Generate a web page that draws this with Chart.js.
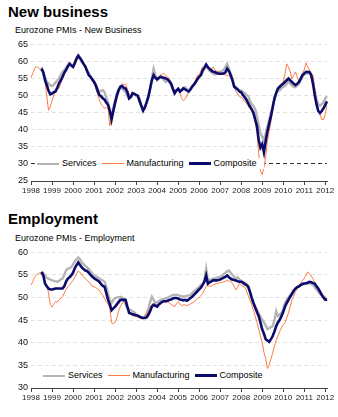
<!DOCTYPE html>
<html>
<head>
<meta charset="utf-8">
<script src="https://cdn.jsdelivr.net/npm/chart.js@4.4.1/dist/chart.umd.min.js"></script>
<style>
  body { margin: 0; background: #fff; font-family: "Liberation Sans", Arial, sans-serif; }
  #page { position: relative; width: 338px; height: 417px; overflow: hidden; }
  .title { position: absolute; left: 8px; font-size: 15px; font-weight: bold; line-height: 15px; color: #000; }
  .sub { position: absolute; left: 15px; font-size: 9px; line-height: 9px; color: #000; }
  canvas { position: absolute; left: 0; }
  .legend { position: absolute; background: #fff; font-size: 9px; line-height: 11px; height: 11px; white-space: nowrap; padding: 0 2px 0 1px; }
  .legend span { display: inline-block; vertical-align: middle; }
  .legend .sw { width: 22px; margin-right: 3px; }
  .legend .lb { margin-right: 5px; }
</style>
</head>
<body>
<div id="page">
  <div class="title" style="top:4px">New business</div>
  <div class="sub" style="top:26px">Eurozone PMIs - New Business</div>
  <canvas id="nbChart" width="338" height="161" style="top:36px"></canvas>
  <div class="legend" id="nbLegend" style="left:36px;top:158px"></div>

  <div class="title" style="top:211px">Employment</div>
  <div class="sub" style="top:234px">Eurozone PMIs - Employment</div>
  <canvas id="empChart" width="338" height="160" style="top:244px"></canvas>
  <div class="legend" id="empLegend" style="left:42px;top:370px"></div>
</div>
<script>
// monthly, Jan 1998 .. Feb 2012
var firstYear = 1998;
var monthCount = 170;
var seriesNames = ["Services", "Manufacturing", "Composite"];

// New business
var nbServices = [null, null, null, null, null, null,
  58.4, 57, 55.5, 54, 53.6, 53,
  52.8, 53.2, 53.8, 54.5, 55, 56, 56.9, 57.5, 58.2, 59, 59.5, 59,
  58.8, 59.8, 60.8, 61.3, 60.8, 60, 59.3, 58.5, 57.5, 56.5, 55.5, 54.5,
  54, 53.2, 52, 51.2, 51.4, 51.6, 51, 49.5, 47.8, 45.5, 44.4, 46.5,
  48.5, 50.5, 52, 52.3, 52, 51.6, 51, 50, 49, 49.5, 50.7, 50.3,
  50, 49.5, 48, 47, 45.9, 46.8, 48, 49.4, 52, 55, 57.9, 56,
  54.5, 55, 55.8, 55.2, 54.5, 54, 54.5, 54, 53, 52, 51.2, 51.5,
  51.9, 51.5, 51.8, 52.3, 52.5, 51.8, 51.6, 52, 52.8, 53.2, 53.8, 54.8,
  55.5, 56, 57, 57.8, 58.5, 58, 57.2, 56.8, 56.5, 56.2, 56.8, 57,
  57, 57.2, 57.5, 58.5, 59.3, 58, 56.5, 55, 53, 52.5, 52, 51.5,
  51.5, 51, 50.8, 50.2, 49.8, 48.5, 47.5, 47, 46, 44, 41.5, 39,
  38, 37, 39, 41, 43, 45, 47, 49, 50.5, 51.5, 51.5, 52.2,
  52.5, 52.8, 53.5, 54, 53.5, 53, 52.5, 52.5, 53, 53.5, 54.5, 55.5,
  56.2, 56.5, 56.5, 56.5, 56, 53.8, 51.5, 49, 47.5, 47, 47.5, 48,
  49.2, 49.8];
var nbManufacturing = [
  55.2, 56.5, 57.8, 58.6, 58.3, 57.8, 57.2, 56.9, 54, 50, 45.7, 46.8,
  48.5, 50.2, 51, 52, 52.1, 53.5, 55, 56.4, 57.5, 58.5, 59.6, 59.3,
  58.7, 60, 61.5, 62, 61, 60.5, 59.8, 58.5, 57, 56, 55.5, 55,
  54, 52, 50.5, 48.8, 47.5, 46.8, 46.3, 46.5, 46.2, 41.1, 43.5, 45.5,
  46.8, 49, 51, 53, 53.5, 53.2, 53.3, 52, 50.5, 49.7, 50.2, 50.7,
  50.3, 49.8, 49.4, 47.5, 45.6, 46, 47.5, 50.2, 52.5, 54.5, 56.4, 55.8,
  55, 55.5, 55.8, 56.2, 56.5, 56, 55.5, 55, 53.5, 51.5, 50.2, 51.5,
  52.3, 51, 49.2, 48.5, 49, 50, 51.2, 52, 53, 53.6, 54.5, 56,
  56, 57.2, 58.4, 58.2, 58.7, 58, 57.5, 57.9, 58.4, 57.5, 57, 56.9,
  56.5, 56.9, 56.4, 56, 56, 55.8, 55.5, 55.5, 53, 51.2, 50.5, 49.7,
  49.5, 49, 48.3, 47.8, 47, 46.3, 45.5, 44.9, 42, 39.6, 33, 28,
  26.9, 29, 32, 36.7, 39.5, 42.5, 46, 48.3, 50.5, 52.1, 53, 53.5,
  54, 56.5, 59.3, 58.4, 57, 55, 56, 56.9, 55.5, 54, 55.2, 56.4,
  57.5, 59.6, 58.4, 57.5, 56.5, 56, 52, 48.3, 46, 44.5, 43, 43,
  44.5, 47.2];
var nbComposite = [null, null, null, null, null, null,
  57.9, 56.8, 54.5, 53.1, 51.5, 50.4,
  50.6, 51, 51.2, 52.3, 53.6, 54.5, 55.5, 56.7, 57.5, 58.5, 59.3, 58.8,
  58.4, 59.5, 60.8, 61.7, 61, 60.2, 59.3, 58.5, 57.2, 56, 55.5, 54.8,
  54, 53, 51.5, 50.2, 49.8, 49.2, 48.8, 48, 47.3, 45.5, 43, 45.5,
  47.9, 50, 51.5, 52.6, 52.8, 52.3, 52.1, 51, 49.2, 49.6, 50.7, 50.5,
  50.2, 50, 48.5, 47, 45.6, 46.5, 48, 49.7, 52, 54.5, 56, 55.2,
  54.8, 55.2, 55.5, 55.3, 55.2, 55, 54.8, 54.2, 53.5, 52, 50.7, 51.5,
  52, 51.2, 51.6, 52.1, 51.8, 51.5, 51.2, 51.8, 52.6, 53.2, 54, 54.8,
  55.5, 56, 57.4, 58.2, 59.1, 58.3, 57.8, 57.4, 57, 56.9, 56.6, 56.4,
  56.4, 56.4, 56.5, 56.8, 57.9, 57.2, 56, 54.5, 52.6, 52.2, 51.8, 51.2,
  51, 50.2, 49.5, 48.8, 47.8, 46.8, 46, 44.9, 43, 41.1, 37, 34.8,
  35.8, 33.4, 36.7, 39.6, 41.8, 44, 46.5, 49.2, 50.8, 52.1, 52.6, 53.1,
  53.5, 54, 54.5, 55, 54.5, 54, 53.5, 53.1, 53.5, 54, 55, 56,
  56.5, 56.9, 57, 56.9, 56, 53.5, 50.2, 47.5, 45.5, 44.9, 45.5, 46.3,
  47.3, 48.3];

// Employment
var empServices = [null, null, null, null, null, null,
  55.7, 55.3, 54.8, 54.4, 54.2, 54,
  53.8, 53.7, 53.6, 53.5, 53.7, 54, 54.2, 55, 56, 56.4, 56.5, 56.8,
  57.3, 58, 58.5, 58.9, 58.5, 57.8, 57.4, 57, 56.7, 56.3, 55.8, 55.3,
  54.9, 54.7, 54.5, 54.3, 54, 53.8, 53.5, 52.5, 50.9, 49.5, 48.8, 49.5,
  49.9, 50, 50.1, 50.2, 50, 49.6, 48.5, 47.7, 47.4, 47.2, 47, 46.7,
  46.3, 46, 45.8, 45.5, 45.5, 45.8, 46.5, 47.5, 49, 50.2, 49.5, 48.8,
  49, 49.2, 49.5, 49.6, 49.7, 49.9, 50, 50.2, 50.4, 50.6, 50.6, 50.6,
  50.6, 50.4, 50.3, 50.2, 50.3, 50.4, 50.5, 50.6, 51, 51.4, 51.7, 52,
  52.4, 52.8, 53, 54, 56.4, 53.8, 54, 54.1, 54.2, 54.3, 54.4, 54.5,
  54.6, 54.8, 55.2, 55.5, 55.8, 56, 55.5, 55, 54.6, 54.2, 54.5, 54,
  53.8, 53.5, 53.3, 53.1, 52.5, 51.2, 49.9, 48.8, 48, 47.3, 46.5, 45.8,
  45.1, 44.5, 43.8, 43, 43.2, 43.5, 43.7, 45, 47, 45.9, 46.3, 46.6,
  47.5, 48.8, 49.5, 50, 50.6, 51.1, 51.6, 52, 52.3, 52.5, 52.8, 52.9,
  53, 53.1, 53.1, 53.2, 53, 52.8, 52.3, 51.8, 51.3, 50.8, 50.5, 50.2,
  49.8, 49.5];
var empManufacturing = [
  52.8, 53.5, 54.5, 55, 55.3, 55.5, 55.1, 54.5, 53.5, 52.8, 51, 48.5,
  47.9, 48.5, 49.1, 49, 49.5, 49.8, 50.2, 51, 51.8, 52.4, 52.8, 53.3,
  53.8, 54.5, 55.2, 55.9, 55.5, 55.2, 54.6, 54.2, 53.8, 53.5, 53, 52.5,
  52.4, 52.2, 51.9, 51.7, 51, 50.5, 49.9, 49, 48.5, 47.7, 44.4, 44.2,
  44.6, 45.5, 47, 48, 48.8, 49.1, 48.6, 48, 47, 46.2, 46, 45.9,
  45.8, 45.6, 45.5, 45.5, 45.5, 45.8, 46.3, 47, 47.8, 48.4, 48.8, 48.4,
  48.4, 48.4, 48.6, 48.9, 49.2, 49, 49.1, 48.8, 48.5, 48.2, 48, 48.6,
  49.1, 48.6, 48.2, 48.4, 48.4, 48.2, 48.4, 48.6, 48.8, 49, 49.5, 49.8,
  50, 50.5, 50.9, 51.8, 52.5, 52.8, 52.4, 52.6, 52.8, 53, 53.1, 53.2,
  53.3, 53.4, 53.5, 53.6, 53.8, 53.6, 53.8, 53.1, 52.5, 51.7, 52.3, 53.1,
  52.8, 52.5, 52.4, 51.5, 50.5, 49.5, 48.5, 47.2, 45.9, 44.5, 43, 41.5,
  40, 37.9, 36.5, 34.3, 35.2, 36.4, 37.8, 39.3, 40.5, 41.5, 42.5, 43.3,
  44, 44.4, 45.5, 46.6, 48, 49.5, 50.3, 51.3, 52, 52.6, 53.1, 53.8,
  54.3, 54.9, 55.7, 55.3, 54.8, 54.2, 53.3, 52.4, 51.8, 51.3, 50.9, 50.5,
  50.2, 49.5];
var empComposite = [null, null, null, null, null, null,
  55.7, 55, 53.1, 52.5, 52, 51.8,
  51.8, 51.9, 52, 52, 52, 52, 52, 52.5, 53.5, 54.2, 54.5, 54.9,
  55.5, 56.5, 57.2, 57.8, 57.2, 56.7, 56.3, 56, 55.9, 55.5, 55, 54.6,
  54.3, 54, 53.8, 53.5, 53, 52.6, 52.4, 51, 49.5, 48.5, 47.2, 47.6,
  48, 48.5, 49, 49.5, 49.5, 49.5, 49.5, 48, 46.6, 46.5, 46.3, 46.2,
  46.1, 46, 45.8, 45.6, 45.5, 45.5, 45.6, 46.2, 47, 48, 48.4, 48.2,
  48, 48.5, 48.8, 49.1, 49.2, 49.2, 49.3, 49.5, 49.6, 49.8, 49.9, 49.9,
  49.8, 49.6, 49.5, 49.4, 49.5, 49.3, 49.6, 49.9, 50.2, 50.6, 51, 51.4,
  51.8, 52.2, 52.8, 53.5, 54.9, 53.1, 53.4, 53.6, 53.8, 53.8, 53.8, 53.9,
  54, 54.2, 54.4, 54.6, 54.9, 54.5, 54.2, 54, 53.9, 53.8, 53.6, 53.5,
  53.5, 53.3, 53, 52.8, 52.4, 51.3, 50, 48.8, 47.8, 46.8, 45.9, 44.5,
  43, 42, 40.8, 40.5, 40.2, 40.8, 41.5, 42.5, 43.7, 44.5, 45.1, 45.9,
  46.8, 48, 48.8, 49.5, 50.2, 50.8, 51.5, 52, 52.3, 52.5, 52.8, 53,
  53.1, 53.2, 53.3, 53.5, 53.4, 53.2, 53.1, 52.5, 52, 51.3, 50.6, 50,
  49.5, 49.6];

var colors = ["#b5b5b5", "#ff7b45", "#0b0b6e"];
var widths = [2.4, 1, 2.6];

var months = [];
for (var i = 0; i < monthCount; i++) {
  var mm = (i % 12) + 1;
  months.push((firstYear + Math.floor(i / 12)) + "-" + (mm < 10 ? "0" + mm : mm));
}

Chart.defaults.font.family = "'Liberation Sans', Arial, sans-serif";

function makeChart(id, legendId, seriesList, yMin, yMax, darkValue, xHeight){
  var ctx = document.getElementById(id);
  var datasets = seriesList.map(function(values, k){
    return {
      label: seriesNames[k],
      data: values,
      borderColor: colors[k],
      borderWidth: widths[k],
      pointRadius: 0,
      tension: 0,
      fill: false,
      order: 3 - k
    };
  });
  var chart = new Chart(ctx, {
    type: "line",
    data: { labels: months, datasets: datasets },
    options: {
      responsive: false,
      animation: false,
      events: [],
      layout: { padding: { top: 6, right: 11, left: 0, bottom: 0 } },
      plugins: { legend: { display: false }, tooltip: { enabled: false } },
      scales: {
        x: {
          grid: { display: true, drawOnChartArea: false, drawTicks: true, tickLength: 4, color: "#444" },
          border: { display: true, color: "#444", width: 1 },
          ticks: {
            autoSkip: false, maxRotation: 0, minRotation: 0, padding: 1,
            color: "#222", font: { size: 8 },
            callback: function(val){
              var l = this.getLabelForValue(val);
              return l.slice(5) === "01" ? l.slice(0, 4) : null;
            }
          },
          afterFit: function(s){ s.height = xHeight; }
        },
        y: {
          min: yMin,
          max: yMax,
          border: { display: false, dash: [4, 3] },
          grid: {
            drawTicks: false,
            lineWidth: 1,
            color: function(c){
              if (c.tick.value === yMin) return "rgba(0,0,0,0)";
              if (c.tick.value === darkValue) return "#333";
              return "#e2e2e2";
            }
          },
          ticks: { stepSize: 5, padding: 3, color: "#111", font: { size: 9 } },
          afterFit: function(s){ s.width = 31; }
        }
      }
    }
  });

  // legend built from the chart's own datasets
  var box = document.getElementById(legendId);
  chart.data.datasets.forEach(function(ds){
    var sw = document.createElement("span");
    sw.className = "sw";
    sw.style.height = Math.max(1, Math.round(ds.borderWidth)) + "px";
    sw.style.background = ds.borderColor;
    var lb = document.createElement("span");
    lb.className = "lb";
    lb.textContent = ds.label;
    box.appendChild(sw);
    box.appendChild(lb);
  });
  return chart;
}

makeChart("nbChart", "nbLegend", [nbServices, nbManufacturing, nbComposite], 25, 65, 30, 16);
makeChart("empChart", "empLegend", [empServices, empManufacturing, empComposite], 30, 60, null, 16);
</script>
</body>
</html>
